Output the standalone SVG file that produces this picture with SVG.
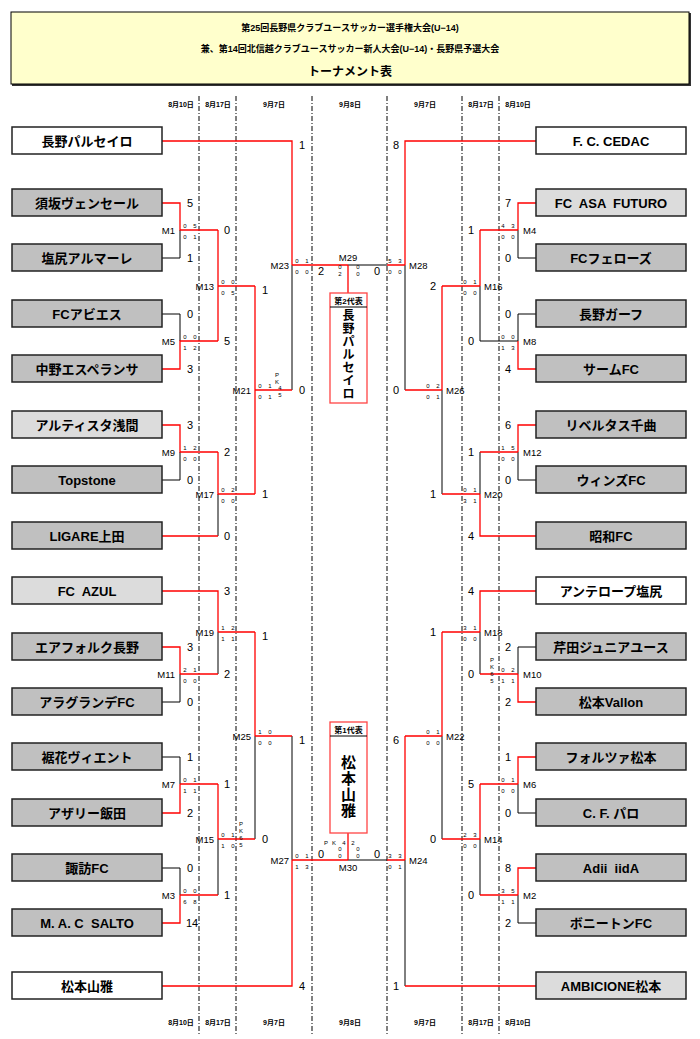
<svg xmlns="http://www.w3.org/2000/svg" width="700" height="1039" viewBox="0 0 700 1039">
<style>
text{font-family:"Liberation Sans","Noto Sans CJK JP",sans-serif;fill:#000}
.t{font-size:13px;font-weight:bold;text-anchor:middle}
.b{stroke:#222;stroke-width:1.5}
.w{fill:#fff}.l{fill:#dcdcdc}.g{fill:#c0c0c0}
.r{fill:none;stroke:#ff0000;stroke-width:1.3}
.k{fill:none;stroke:#000;stroke-width:1}
.dl{stroke:#000;stroke-width:1;stroke-dasharray:5,2,1,2}
.s{font-size:11px;text-anchor:middle}
.p{font-size:6px;text-anchor:middle}
.m{font-size:9.5px}
.d{font-size:7px;font-weight:bold;text-anchor:middle}
</style>
<rect width="700" height="1039" fill="#fff"/>
<g id="header">
<rect x="12" y="13" width="679" height="73" fill="#333"/>
<rect x="11" y="12" width="678" height="72" fill="#ffffcc" stroke="#000"/>
<text x="350" y="31" font-size="9" font-weight="bold" text-anchor="middle">第25回長野県クラブユースサッカー選手権大会(U−14)</text>
<text x="350" y="52" font-size="9" font-weight="bold" text-anchor="middle">兼、第14回北信越クラブユースサッカー新人大会(U−14)・長野県予選大会</text>
<text x="350" y="76" font-size="12" font-weight="bold" text-anchor="middle">トーナメント表</text>
</g>
<g id="dates">
<line class="dl" x1="199" y1="96" x2="199" y2="1036"/>
<line class="dl" x1="236" y1="96" x2="236" y2="1036"/>
<line class="dl" x1="312" y1="96" x2="312" y2="1036"/>
<line class="dl" x1="387" y1="96" x2="387" y2="1036"/>
<line class="dl" x1="462" y1="96" x2="462" y2="1036"/>
<line class="dl" x1="499" y1="96" x2="499" y2="1036"/>
<g fill="#fff"><rect x="164" y="99" width="34" height="10"/><rect x="201" y="99" width="34" height="10"/><rect x="464" y="99" width="34" height="10"/><rect x="501" y="99" width="34" height="10"/><rect x="164" y="1017" width="34" height="10"/><rect x="201" y="1017" width="34" height="10"/><rect x="464" y="1017" width="34" height="10"/><rect x="501" y="1017" width="34" height="10"/></g>
<text class="d" x="181" y="107">8月10日</text><text class="d" x="218" y="107">8月17日</text><text class="d" x="274" y="107">9月7日</text><text class="d" x="350" y="107">9月8日</text><text class="d" x="425" y="107">9月7日</text><text class="d" x="481" y="107">8月17日</text><text class="d" x="518" y="107">8月10日</text>
<text class="d" x="181" y="1025">8月10日</text><text class="d" x="218" y="1025">8月17日</text><text class="d" x="274" y="1025">9月7日</text><text class="d" x="350" y="1025">9月8日</text><text class="d" x="425" y="1025">9月7日</text><text class="d" x="481" y="1025">8月17日</text><text class="d" x="518" y="1025">8月10日</text>
</g>
<g id="connectors">
<path class="k" d="M292,265V390 M162,258H180V230 M162,314H180V341 M162,480H180V452 M218,494V536 M348,265H387 M405,265V390 M442,390V494 M480,286V341H518 M518,230V258H536 M536,314H518V341 M480,452V494 M518,452V480H536 M480,632V674 M536,647H518V674 M442,736V839 M480,839V895 M518,784V813H536 M518,895V923H536 M405,860V986 M387,860H348 M218,632V674 M180,674V702H162 M255,736V839 M218,839V895 M162,757H180V784 M162,868H180V895 M292,736V860"/>
<path class="r" d="M162,141H292V265 M162,203H180V230H218 M162,369H180V341H218 M218,230V341 M218,286H255 M162,425H180V452H218 M218,452V494H255 M162,536H218 M255,286V494 M255,390H292 M292,265H348 M387,265H405 M348,265V293 M536,141H405V265 M405,390H442 M442,286V390 M442,494H480 M442,286H480 M480,230V286 M480,230H518 M536,203H518V230 M518,341V369H536 M480,494V536H536 M480,452H518 M536,425H518V452 M536,591H480V632 M480,674H518 M480,632H442 M518,674V702H536 M442,632V736 M442,839H480 M442,736H405 M480,784V839 M480,784H518 M480,895H518 M536,757H518V784 M536,868H518V895 M405,736V860 M405,986H536 M405,860H387 M292,860H348 M348,860V833 M162,591H218V632 M218,674H180 M218,632H255 M162,647H180V674 M255,632V736 M255,736H292 M255,839H218 M218,784V839 M218,784H180 M218,895H180 M180,784V813H162 M180,895V923H162 M292,860V986H162"/>
</g>
<g id="teams-left">
<g id="t1"><rect class="b w" x="12" y="127" width="150" height="27"/><text class="t" x="87" y="146">長野パルセイロ</text></g>
<g id="t2"><rect class="b g" x="12" y="189" width="150" height="27"/><text class="t" x="87" y="208">須坂ヴェンセール</text></g>
<g id="t3"><rect class="b g" x="12" y="244" width="150" height="27"/><text class="t" x="87" y="263">塩尻アルマーレ</text></g>
<g id="t4"><rect class="b g" x="12" y="300" width="150" height="27"/><text class="t" x="87" y="319">FCアビエス</text></g>
<g id="t5"><rect class="b g" x="12" y="355" width="150" height="27"/><text class="t" x="87" y="374">中野エスペランサ</text></g>
<g id="t6"><rect class="b l" x="12" y="411" width="150" height="27"/><text class="t" x="87" y="430">アルティスタ浅間</text></g>
<g id="t7"><rect class="b g" x="12" y="466" width="150" height="27"/><text class="t" x="87" y="485">Topstone</text></g>
<g id="t8"><rect class="b g" x="12" y="522" width="150" height="27"/><text class="t" x="87" y="541">LIGARE上田</text></g>
<g id="t9"><rect class="b l" x="12" y="577" width="150" height="27"/><text class="t" x="87" y="596" xml:space="preserve">FC  AZUL</text></g>
<g id="t10"><rect class="b g" x="12" y="633" width="150" height="27"/><text class="t" x="87" y="652">エアフォルク長野</text></g>
<g id="t11"><rect class="b g" x="12" y="688" width="150" height="27"/><text class="t" x="87" y="707">アラグランデFC</text></g>
<g id="t12"><rect class="b g" x="12" y="743" width="150" height="27"/><text class="t" x="87" y="762">裾花ヴィエント</text></g>
<g id="t13"><rect class="b g" x="12" y="799" width="150" height="27"/><text class="t" x="87" y="818">アザリー飯田</text></g>
<g id="t14"><rect class="b g" x="12" y="854" width="150" height="27"/><text class="t" x="87" y="873">諏訪FC</text></g>
<g id="t15"><rect class="b g" x="12" y="909" width="150" height="27"/><text class="t" x="87" y="928" xml:space="preserve">M. A. C  SALTO</text></g>
<g id="t16"><rect class="b w" x="12" y="972" width="150" height="27"/><text class="t" x="87" y="991">松本山雅</text></g>
</g>
<g id="teams-right">
<g id="u1"><rect class="b w" x="536" y="127" width="150" height="27"/><text class="t" x="611" y="146">F. C. CEDAC</text></g>
<g id="u2"><rect class="b l" x="536" y="189" width="150" height="27"/><text class="t" x="611" y="208" xml:space="preserve">FC  ASA  FUTURO</text></g>
<g id="u3"><rect class="b g" x="536" y="244" width="150" height="27"/><text class="t" x="611" y="263">FCフェローズ</text></g>
<g id="u4"><rect class="b g" x="536" y="300" width="150" height="27"/><text class="t" x="611" y="319">長野ガーフ</text></g>
<g id="u5"><rect class="b g" x="536" y="355" width="150" height="27"/><text class="t" x="611" y="374">サームFC</text></g>
<g id="u6"><rect class="b g" x="536" y="411" width="150" height="27"/><text class="t" x="611" y="430">リベルタス千曲</text></g>
<g id="u7"><rect class="b g" x="536" y="466" width="150" height="27"/><text class="t" x="611" y="485">ウィンズFC</text></g>
<g id="u8"><rect class="b g" x="536" y="522" width="150" height="27"/><text class="t" x="611" y="541">昭和FC</text></g>
<g id="u9"><rect class="b w" x="536" y="577" width="150" height="27"/><text class="t" x="611" y="596">アンテロープ塩尻</text></g>
<g id="u10"><rect class="b g" x="536" y="633" width="150" height="27"/><text class="t" x="611" y="652">芹田ジュニアユース</text></g>
<g id="u11"><rect class="b g" x="536" y="688" width="150" height="27"/><text class="t" x="611" y="707">松本Vallon</text></g>
<g id="u12"><rect class="b g" x="536" y="743" width="150" height="27"/><text class="t" x="611" y="762">フォルツァ松本</text></g>
<g id="u13"><rect class="b g" x="536" y="799" width="150" height="27"/><text class="t" x="611" y="818">C. F. パロ</text></g>
<g id="u14"><rect class="b g" x="536" y="854" width="150" height="27"/><text class="t" x="611" y="873" xml:space="preserve">Adii  iidA</text></g>
<g id="u15"><rect class="b g" x="536" y="909" width="150" height="27"/><text class="t" x="611" y="928">ボニートンFC</text></g>
<g id="u16"><rect class="b l" x="536" y="972" width="150" height="27"/><text class="t" x="611" y="991">AMBICIONE松本</text></g>
</g>
<g id="rep2">
<rect x="330" y="293" width="37" height="110" fill="#fff" stroke="#ff4444" stroke-width="1.3"/>
<line x1="330" y1="307" x2="367" y2="307" stroke="#000"/>
<text x="348.5" y="304" font-size="8" font-weight="bold" text-anchor="middle">第2代表</text>
<g font-size="12" font-weight="bold" text-anchor="middle"><text x="348.5" y="320">長</text><text x="348.5" y="333">野</text><text x="348.5" y="346">パ</text><text x="348.5" y="359">ル</text><text x="348.5" y="372">セ</text><text x="348.5" y="385">イ</text><text x="348.5" y="398">ロ</text></g>
</g>
<g id="rep1">
<rect x="330" y="722" width="37" height="111" fill="#fff" stroke="#ff4444" stroke-width="1.3"/>
<line x1="330" y1="736" x2="367" y2="736" stroke="#000"/>
<text x="348.5" y="733" font-size="8" font-weight="bold" text-anchor="middle">第1代表</text>
<g font-size="15" font-weight="bold" text-anchor="middle"><text x="348.5" y="768">松</text><text x="348.5" y="784">本</text><text x="348.5" y="800">山</text><text x="348.5" y="816">雅</text></g>
</g>
<g id="scores">
<g class="s">
<text x="190" y="207">5</text><text x="190" y="262">1</text><text x="190" y="318">0</text><text x="190" y="373">3</text><text x="190" y="429">3</text><text x="190" y="484">0</text><text x="190" y="651">3</text><text x="190" y="706">0</text><text x="190" y="761">1</text><text x="190" y="817">2</text><text x="190" y="872">0</text><text x="192" y="927">14</text>
<text x="227" y="234">0</text><text x="227" y="345">5</text><text x="227" y="456">2</text><text x="227" y="540">0</text><text x="227" y="595">3</text><text x="227" y="678">2</text><text x="227" y="788">1</text><text x="227" y="899">1</text>
<text x="265" y="294">1</text><text x="265" y="498">1</text><text x="265" y="640">1</text><text x="265" y="843">0</text>
<text x="302" y="149">1</text><text x="302" y="394">0</text><text x="302" y="744">1</text><text x="302" y="990">4</text>
<text x="508" y="207">7</text><text x="508" y="262">0</text><text x="508" y="318">0</text><text x="508" y="373">4</text><text x="508" y="429">6</text><text x="508" y="484">0</text><text x="508" y="651">2</text><text x="508" y="706">2</text><text x="508" y="761">1</text><text x="508" y="817">0</text><text x="508" y="872">8</text><text x="508" y="927">2</text>
<text x="471" y="234">1</text><text x="471" y="345">0</text><text x="471" y="456">1</text><text x="471" y="540">4</text><text x="471" y="595">4</text><text x="471" y="678">0</text><text x="471" y="788">5</text><text x="471" y="899">0</text>
<text x="433" y="290">2</text><text x="433" y="498">1</text><text x="433" y="636">1</text><text x="433" y="843">0</text>
<text x="396" y="149">8</text><text x="396" y="394">0</text><text x="396" y="744">6</text><text x="396" y="990">1</text>
<text x="321" y="275">2</text><text x="377" y="275">0</text><text x="321" y="858">0</text><text x="377" y="858">0</text>
</g>
<g class="p">
<text x="185" y="228">0</text><text x="195" y="228">5</text><text x="185" y="239">0</text><text x="195" y="239">1</text>
<text x="185" y="339">0</text><text x="195" y="339">0</text><text x="185" y="350">1</text><text x="195" y="350">2</text>
<text x="185" y="450">1</text><text x="195" y="450">2</text><text x="185" y="461">0</text><text x="195" y="461">0</text>
<text x="185" y="672">2</text><text x="195" y="672">1</text><text x="185" y="683">0</text><text x="195" y="683">0</text>
<text x="185" y="782">0</text><text x="195" y="782">1</text><text x="185" y="793">1</text><text x="195" y="793">1</text>
<text x="185" y="893">0</text><text x="195" y="893">0</text><text x="185" y="904">6</text><text x="195" y="904">8</text>
<text x="223" y="284">0</text><text x="233" y="284">0</text><text x="223" y="295">0</text><text x="233" y="295">5</text>
<text x="223" y="492">0</text><text x="233" y="492">2</text><text x="223" y="503">0</text><text x="233" y="503">0</text>
<text x="223" y="630">1</text><text x="233" y="630">2</text><text x="223" y="641">1</text><text x="233" y="641">1</text>
<text x="223" y="837">0</text><text x="233" y="837">1</text><text x="223" y="848">1</text><text x="233" y="848">0</text>
<text x="260" y="388">0</text><text x="270" y="388">1</text><text x="260" y="399">0</text><text x="270" y="399">1</text>
<text x="260" y="734">1</text><text x="270" y="734">0</text><text x="260" y="745">0</text><text x="270" y="745">0</text>
<text x="297" y="263">0</text><text x="307" y="263">1</text><text x="297" y="274">0</text><text x="307" y="274">0</text>
<text x="297" y="858">0</text><text x="307" y="858">1</text><text x="297" y="869">1</text><text x="307" y="869">3</text>
<text x="503" y="228">4</text><text x="513" y="228">3</text><text x="503" y="239">0</text><text x="513" y="239">0</text>
<text x="503" y="339">0</text><text x="513" y="339">0</text><text x="503" y="350">1</text><text x="513" y="350">3</text>
<text x="503" y="450">1</text><text x="513" y="450">5</text><text x="503" y="461">0</text><text x="513" y="461">0</text>
<text x="503" y="672">0</text><text x="513" y="672">2</text><text x="503" y="683">1</text><text x="513" y="683">1</text>
<text x="503" y="782">0</text><text x="513" y="782">1</text><text x="503" y="793">0</text><text x="513" y="793">0</text>
<text x="503" y="893">3</text><text x="513" y="893">5</text><text x="503" y="904">1</text><text x="513" y="904">1</text>
<text x="465" y="284">0</text><text x="475" y="284">1</text><text x="465" y="295">0</text><text x="475" y="295">0</text>
<text x="465" y="492">0</text><text x="475" y="492">1</text><text x="465" y="503">3</text><text x="475" y="503">1</text>
<text x="465" y="630">3</text><text x="475" y="630">1</text><text x="465" y="641">0</text><text x="475" y="641">0</text>
<text x="465" y="837">2</text><text x="475" y="837">3</text><text x="465" y="848">0</text><text x="475" y="848">0</text>
<text x="428" y="388">0</text><text x="438" y="388">2</text><text x="428" y="399">0</text><text x="438" y="399">1</text>
<text x="428" y="734">0</text><text x="438" y="734">1</text><text x="428" y="745">0</text><text x="438" y="745">0</text>
<text x="390" y="263">5</text><text x="400" y="263">3</text><text x="390" y="274">0</text><text x="400" y="274">0</text>
<text x="390" y="858">3</text><text x="400" y="858">3</text><text x="390" y="869">0</text><text x="400" y="869">1</text>
<text x="340" y="269">0</text><text x="340" y="276">2</text><text x="358" y="269">0</text><text x="358" y="276">0</text>
<text x="340" y="851">0</text><text x="340" y="858">0</text><text x="358" y="851">0</text><text x="358" y="858">0</text>
<text x="326" y="845">P</text><text x="334" y="845">K</text><text x="344" y="845">4</text><text x="353" y="845">2</text>
<text x="277" y="377">P</text><text x="277" y="384">K</text><text x="280" y="390">4</text><text x="280" y="397">5</text>
<text x="241" y="826">P</text><text x="241" y="833">K</text><text x="241" y="840">6</text><text x="241" y="847">5</text>
<text x="492" y="662">P</text><text x="492" y="669">K</text><text x="492" y="676">6</text><text x="492" y="683">5</text>
</g>
</g>
<g id="labels" class="m">
<g text-anchor="end">
<text x="175" y="234">M1</text><text x="175" y="345">M5</text><text x="175" y="456">M9</text><text x="175" y="678">M11</text><text x="175" y="788">M7</text><text x="175" y="899">M3</text>
<text x="214" y="290">M13</text><text x="214" y="498">M17</text><text x="214" y="636">M19</text><text x="214" y="843">M15</text>
<text x="251" y="394">M21</text><text x="251" y="740">M25</text>
<text x="289" y="269">M23</text><text x="289" y="864">M27</text>
</g>
<text x="523" y="234">M4</text><text x="523" y="345">M8</text><text x="523" y="456">M12</text><text x="523" y="678">M10</text><text x="523" y="788">M6</text><text x="523" y="899">M2</text>
<text x="484" y="290">M16</text><text x="484" y="498">M20</text><text x="484" y="636">M18</text><text x="484" y="843">M14</text>
<text x="446" y="394">M26</text><text x="446" y="740">M22</text>
<text x="409" y="269">M28</text><text x="409" y="864">M24</text>
<text x="348" y="261" text-anchor="middle">M29</text><text x="348" y="871" text-anchor="middle">M30</text>
</g>
</svg>
